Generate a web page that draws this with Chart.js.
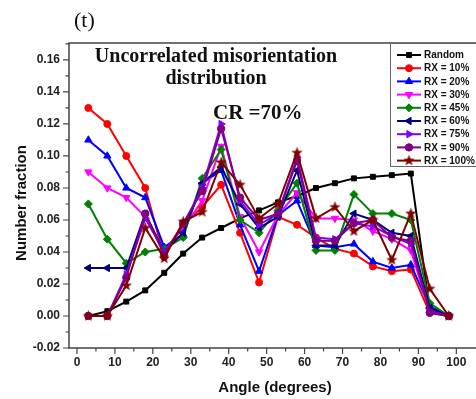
<!DOCTYPE html>
<html>
<head>
<meta charset="utf-8">
<script src="https://cdn.jsdelivr.net/npm/chart.js@4/dist/chart.umd.min.js"></script>
<style>
  html, body { margin: 0; padding: 0; background: #fff; }
  canvas { display: block; }
</style>
</head>
<body>
<canvas id="misgraph" width="476" height="399"></canvas>
<script>
// angle bins (degrees)
var angles = [3, 8, 13, 18, 23, 28, 33, 38, 43, 48, 53, 58, 63, 68, 73, 78, 83, 88, 93, 98];

var random = [0.000, 0.003, 0.009, 0.016, 0.027, 0.039, 0.049, 0.055, 0.061, 0.066, 0.071, 0.075, 0.080, 0.083, 0.086, 0.087, 0.088, 0.089, 0.004, 0.000];
var rx10   = [0.130, 0.120, 0.100, 0.080, 0.037, 0.057, 0.068, 0.082, 0.052, 0.021, 0.062, 0.057, 0.049, 0.042, 0.039, 0.031, 0.028, 0.029, 0.002, 0.000];
var rx20   = [0.110, 0.100, 0.080, 0.074, 0.043, 0.051, 0.083, 0.091, 0.057, 0.028, 0.063, 0.072, 0.044, 0.043, 0.045, 0.034, 0.030, 0.032, 0.006, 0.000];
var rx30   = [0.090, 0.080, 0.074, 0.062, 0.040, 0.055, 0.072, 0.106, 0.062, 0.040, 0.063, 0.077, 0.061, 0.061, 0.060, 0.053, 0.048, 0.041, 0.003, 0.000];
var rx45   = [0.070, 0.048, 0.033, 0.040, 0.042, 0.049, 0.086, 0.104, 0.060, 0.052, 0.066, 0.083, 0.041, 0.041, 0.076, 0.064, 0.064, 0.060, 0.008, 0.000];
var rx60   = [0.030, 0.030, 0.030, 0.064, 0.040, 0.052, 0.083, 0.093, 0.070, 0.055, 0.062, 0.091, 0.044, 0.044, 0.064, 0.060, 0.052, 0.050, 0.005, 0.000];
var rx75   = [0.000, 0.000, 0.026, 0.061, 0.040, 0.057, 0.080, 0.120, 0.072, 0.057, 0.064, 0.099, 0.049, 0.048, 0.058, 0.056, 0.050, 0.045, 0.003, 0.000];
var rx90   = [0.000, 0.000, 0.024, 0.064, 0.038, 0.058, 0.078, 0.117, 0.074, 0.060, 0.064, 0.097, 0.047, 0.047, 0.058, 0.060, 0.049, 0.047, 0.002, 0.000];
var rx100  = [0.000, 0.000, 0.019, 0.055, 0.036, 0.059, 0.065, 0.096, 0.082, 0.061, 0.070, 0.102, 0.061, 0.068, 0.053, 0.060, 0.035, 0.064, 0.017, 0.000];

var seriesLabels = ['Random', 'RX = 10%', 'RX = 20%', 'RX = 30%', 'RX = 45%', 'RX = 60%', 'RX = 75%', 'RX = 90%', 'RX = 100%'];
var seriesData = [random, rx10, rx20, rx30, rx45, rx60, rx75, rx90, rx100];

var xTicks = [0, 10, 20, 30, 40, 50, 60, 70, 80, 90, 100];
var yTicks = [-0.02, 0.00, 0.02, 0.04, 0.06, 0.08, 0.10, 0.12, 0.14, 0.16];

// star marker (filled, like Origin)
function makeStar(color) {
    var c = document.createElement('canvas');
    c.width = 13; c.height = 13;
    var g = c.getContext('2d');
    g.beginPath();
    for (var i = 0; i < 10; i++) {
        var r = i % 2 === 0 ? 6 : 2.5;
        var a = -Math.PI / 2 + i * Math.PI / 5;
        var px = 6.5 + r * Math.cos(a), py = 6.5 + r * Math.sin(a);
        if (i === 0) g.moveTo(px, py); else g.lineTo(px, py);
    }
    g.closePath();
    g.fillStyle = color;
    g.fill();
    return c;
}

var styles = [
    {color: '#000000', pointStyle: 'rect', rotation: 0, radius: 3.5},
    {color: '#ff0000', pointStyle: 'circle', rotation: 0, radius: 3.5},
    {color: '#0000ff', pointStyle: 'triangle', rotation: 0, radius: 4.2},
    {color: '#ff00ff', pointStyle: 'triangle', rotation: 180, radius: 4.2},
    {color: '#008000', pointStyle: 'rectRot', rotation: 0, radius: 4},
    {color: '#000080', pointStyle: 'triangle', rotation: 270, radius: 4.2},
    {color: '#8000ff', pointStyle: 'triangle', rotation: 90, radius: 4.2},
    {color: '#800080', pointStyle: 'circle', rotation: 0, radius: 3.7},
    {color: '#800000', pointStyle: makeStar('#800000'), rotation: 0, radius: 5}
];

var datasets = [];
for (var i = 0; i < seriesData.length; i++) {
    var pts = [];
    for (var k = 0; k < angles.length; k++) pts.push({x: angles[k], y: seriesData[i][k]});
    datasets.push({
        label: seriesLabels[i],
        data: pts,
        borderColor: styles[i].color,
        backgroundColor: styles[i].color,
        borderWidth: 2,
        tension: 0,
        pointStyle: styles[i].pointStyle,
        pointRotation: styles[i].rotation,
        pointRadius: styles[i].radius,
        pointBorderWidth: 1,
        order: seriesData.length - i
    });
}

var sansBold = function(sz) { return 'bold ' + sz + 'px "Liberation Sans", Arial, sans-serif'; };

var decor = {
    id: 'decor',
    beforeDatasetsDraw: function(chart) {
        var ctx = chart.ctx, a = chart.chartArea;
        var xs = chart.scales.x, ys = chart.scales.y;
        ctx.save();
        ctx.strokeStyle = '#444';
        ctx.lineWidth = 1.5;
        ctx.beginPath();
        ctx.moveTo(476, a.top); ctx.lineTo(a.left, a.top);
        ctx.lineTo(a.left, a.bottom); ctx.lineTo(476, a.bottom);
        ctx.stroke();
        ctx.lineWidth = 1.2;
        ctx.beginPath();
        for (var v = 0; v <= 100; v += 5) {
            var px = xs.getPixelForValue(v);
            ctx.moveTo(px, a.bottom); ctx.lineTo(px, a.bottom + (v % 10 === 0 ? 6 : 3.5));
        }
        for (var j = 0; j < yTicks.length; j++) {
            var py = ys.getPixelForValue(yTicks[j]);
            ctx.moveTo(a.left, py); ctx.lineTo(a.left - 6, py);
            var pm = ys.getPixelForValue(yTicks[j] + 0.01);
            ctx.moveTo(a.left, pm); ctx.lineTo(a.left - 3.5, pm);
        }
        ctx.stroke();
        ctx.restore();
    },
    afterDraw: function(chart) {
        var ctx = chart.ctx;
        ctx.save();
        ctx.fillStyle = '#111';
        ctx.textBaseline = 'middle';

        ctx.font = '22px "Liberation Serif", "Times New Roman", serif';
        ctx.textAlign = 'left';
        ctx.fillText('(t)', 74, 21);

        ctx.font = 'bold 20px "Liberation Serif", "Times New Roman", serif';
        ctx.textAlign = 'center';
        ctx.fillText('Uncorrelated misorientation', 216, 57);
        ctx.fillText('distribution', 216, 79);

        ctx.font = 'bold 21px "Liberation Serif", "Times New Roman", serif';
        ctx.textAlign = 'left';
        ctx.fillText('CR =70%', 213, 114);

        ctx.font = sansBold(15);
        ctx.textAlign = 'center';
        ctx.fillText('Angle (degrees)', 275, 388);
        ctx.save();
        ctx.translate(22, 203);
        ctx.rotate(-Math.PI / 2);
        ctx.fillText('Number fraction', 0, 0);
        ctx.restore();

        // legend
        var lx = 390, ly = 43, lw = 86, lh = 123;
        ctx.fillStyle = '#fff';
        ctx.fillRect(lx, ly, lw, lh);
        ctx.strokeStyle = '#666';
        ctx.lineWidth = 1;
        ctx.strokeRect(lx + 0.5, ly + 0.5, lw, lh);
        ctx.font = sansBold(10);
        ctx.textAlign = 'left';
        chart.data.datasets.forEach(function(ds, idx) {
            var y = 55 + idx * 13.2;
            ctx.strokeStyle = ds.borderColor;
            ctx.lineWidth = 2;
            ctx.beginPath();
            ctx.moveTo(397, y); ctx.lineTo(421, y);
            ctx.stroke();
            ctx.fillStyle = ds.backgroundColor;
            ctx.strokeStyle = ds.borderColor;
            ctx.lineWidth = 1;
            if (Chart.helpers && Chart.helpers.drawPoint) {
                Chart.helpers.drawPoint(ctx, {pointStyle: ds.pointStyle, rotation: ds.pointRotation, radius: ds.pointRadius, borderWidth: 1}, 409, y);
            }
            ctx.fillStyle = '#111';
            ctx.fillText(ds.label, 424, y + 0.5);
        });
        ctx.restore();
    }
};

var chart = new Chart(document.getElementById('misgraph'), {
    type: 'line',
    data: { datasets: datasets },
    options: {
        responsive: false,
        animation: false,
        layout: { padding: { top: 43, right: 2, left: 0, bottom: 0 } },
        plugins: { legend: { display: false }, tooltip: { enabled: false } },
        scales: {
            x: {
                type: 'linear',
                min: -2.1,
                max: 103.6,
                afterFit: function(s) { s.height = 51; },
                afterBuildTicks: function(s) { s.ticks = xTicks.map(function(v) { return {value: v}; }); },
                ticks: { font: { family: '"Liberation Sans", Arial, sans-serif', weight: 'bold', size: 12 }, color: '#222', padding: 1, maxRotation: 0, autoSkip: false },
                grid: { display: false, drawTicks: true, tickLength: 6 },
                border: { display: false }
            },
            y: {
                min: -0.02,
                max: 0.1706,
                afterFit: function(s) { s.width = 69; },
                afterBuildTicks: function(s) { s.ticks = yTicks.map(function(v) { return {value: v}; }); },
                ticks: {
                    font: { family: '"Liberation Sans", Arial, sans-serif', weight: 'bold', size: 12 },
                    color: '#222',
                    padding: 3,
                    callback: function(v) { return Number(v).toFixed(2); }
                },
                grid: { display: false, drawTicks: true, tickLength: 6 },
                border: { display: false }
            }
        }
    },
    plugins: [decor]
});
</script>
</body>
</html>
